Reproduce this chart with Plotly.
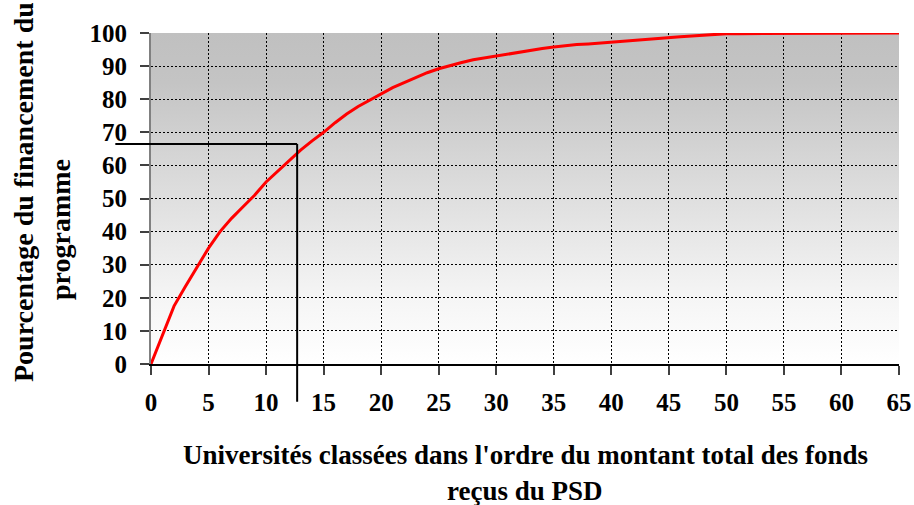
import base64
import plotly.graph_objects as go

# Cumulative share of programme funding (%) by university rank
universities = list(range(0, 66))
cumulative_pct = [
    0, 9, 17.5, 23.5, 29.3, 35, 40, 44, 47.5, 51,
    55, 58.3, 61.5, 64.6, 67.4, 70, 72.9, 75.5, 77.8, 79.7,
    81.6, 83.5, 85, 86.6, 88, 89.2, 90.2, 91.1, 91.9, 92.5,
    93, 93.7, 94.1, 94.9, 95.3, 95.8, 96.2, 96.5, 96.7, 97.0,
    97.3, 97.5, 97.8, 98.1, 98.4, 98.7, 98.9, 99.1, 99.4, 99.6,
    99.8, 99.8, 99.8, 99.8, 99.8, 99.8, 99.8, 100, 100, 100,
    100, 100, 100, 100, 100, 100,
]

# Marker read-out: ~12.7 universities hold ~66.5 % of the funds
ref_universities = 12.7
ref_pct = 66.5

x_ticks = list(range(0, 66, 5))
y_ticks = list(range(0, 101, 10))

x_title_lines = ["Universités classées dans l'ordre du montant total des fonds", "reçus du PSD"]
y_title_lines = ["Pourcentage du financement du", "programme"]

X_RANGE = [0, 65]
Y_RANGE = [0, 100]

# overhang of the read-out lines beyond the axes, in data units
H_OVERHANG = -3.1
V_OVERHANG = -11.4


def to_paper_x(v):
    return (v - X_RANGE[0]) / (X_RANGE[1] - X_RANGE[0])


def to_paper_y(v):
    return (v - Y_RANGE[0]) / (Y_RANGE[1] - Y_RANGE[0])


# vertical grey-to-white gradient for the plot background
svg = (
    "<svg xmlns='http://www.w3.org/2000/svg' width='10' height='100' viewBox='0 0 10 100' "
    "preserveAspectRatio='none'><defs><linearGradient id='g' x1='0' y1='0' x2='0' y2='1'>"
    "<stop offset='0' stop-color='#c0c0c0'/><stop offset='0.15' stop-color='#c4c4c4'/>"
    "<stop offset='0.5' stop-color='#dfdfdf'/><stop offset='0.8' stop-color='#f5f5f5'/>"
    "<stop offset='1' stop-color='#ffffff'/></linearGradient></defs>"
    "<rect width='10' height='100' fill='url(#g)'/></svg>"
)
bg_src = "data:image/svg+xml;base64," + base64.b64encode(svg.encode()).decode()

FONT = "Liberation Serif, Times New Roman, serif"

fig = go.Figure()
fig.add_trace(go.Scatter(
    x=universities, y=cumulative_pct, mode="lines",
    line=dict(color="#ff0000", width=3), hoverinfo="skip", showlegend=False,
))

fig.add_layout_image(dict(
    source=bg_src, xref="x", yref="y", x=X_RANGE[0], y=Y_RANGE[1],
    sizex=X_RANGE[1] - X_RANGE[0], sizey=Y_RANGE[1] - Y_RANGE[0],
    sizing="stretch", layer="below", xanchor="left", yanchor="top",
))

# read-out lines
fig.add_shape(type="line", xref="paper", yref="y",
              x0=to_paper_x(H_OVERHANG), x1=to_paper_x(ref_universities),
              y0=ref_pct, y1=ref_pct, line=dict(color="black", width=2))
fig.add_shape(type="line", xref="x", yref="paper",
              x0=ref_universities, x1=ref_universities,
              y0=to_paper_y(V_OVERHANG), y1=to_paper_y(ref_pct),
              line=dict(color="black", width=2))

tickfont = dict(family=FONT, size=25, color="black", weight="bold")
grid = dict(showgrid=True, gridcolor="black", gridwidth=1, griddash="2px,2px")

fig.update_xaxes(range=X_RANGE, tickvals=x_ticks, ticks="outside", ticklen=9,
                 tickwidth=1.5, tickcolor="#404040", showline=True, linecolor="black",
                 linewidth=1.5, zeroline=False, tickfont=tickfont, automargin=False,
                 ticklabelstandoff=6, **grid)
fig.update_yaxes(range=Y_RANGE, tickvals=y_ticks, ticks="outside", ticklen=9,
                 tickwidth=1.5, tickcolor="#404040", showline=True, linecolor="#808080",
                 linewidth=2, zeroline=False, tickfont=tickfont, automargin=False,
                 ticklabelstandoff=8, **grid)

x_title_font = dict(family=FONT, size=27, color="black", weight="bold")
y_title_font = dict(family=FONT, size=28, color="black", weight="bold")
annotations = [
    dict(text=x_title_lines[0], xref="paper", yref="paper", x=0.5, y=0, yshift=-91,
         showarrow=False, font=x_title_font, xanchor="center", yanchor="middle"),
    dict(text=x_title_lines[1], xref="paper", yref="paper", x=0.5, y=0, yshift=-127,
         showarrow=False, font=x_title_font, xanchor="center", yanchor="middle"),
    dict(text=y_title_lines[0], xref="paper", yref="paper", x=0, y=0, xshift=-128, yshift=172,
         showarrow=False, font=y_title_font, textangle=-90, xanchor="center", yanchor="middle"),
    dict(text=y_title_lines[1], xref="paper", yref="paper", x=0, y=0, xshift=-91, yshift=134,
         showarrow=False, font=y_title_font, textangle=-90, xanchor="center", yanchor="middle"),
]

fig.update_layout(
    width=914, height=505,
    margin=dict(l=151, r=15, t=33, b=141),
    paper_bgcolor="white", plot_bgcolor="white",
    annotations=annotations, showlegend=False,
)

fig.write_html("out.html")
